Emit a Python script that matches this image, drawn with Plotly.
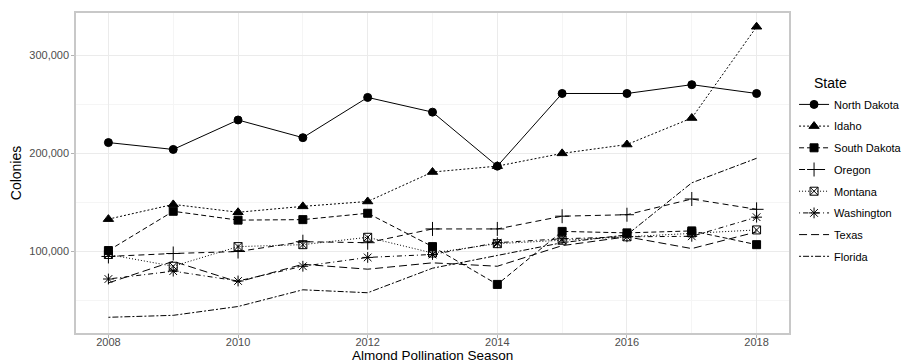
import plotly.graph_objects as go

years = list(range(2008, 2019))
states = ["North Dakota", "Idaho", "South Dakota", "Oregon", "Montana", "Washington", "Texas", "Florida"]

north_dakota = [211000, 204000, 234000, 216000, 257000, 242000, 187000, 261000, 261000, 270000, 261000]
idaho        = [133000, 148000, 140000, 146000, 151000, 181000, 187000, 200000, 209000, 236000, 329000]
south_dakota = [101000, 141000, 132000, 132500, 139000, 105000, 66500, 120500, 119000, 121000, 107000]
oregon       = [95000, 98000, 100000, 110000, 109000, 123000, 123000, 136000, 137500, 153500, 143000]
montana      = [97000, 85000, 105000, 107000, 114500, 98500, 108000, 111500, 115000, 119000, 122000]
washington   = [72000, 80000, 70000, 85000, 94000, 97000, 109000, 113000, 115000, 115500, 135000]
texas        = [68000, 90000, 69000, 87000, 82000, 88500, 85000, 106000, 115000, 103000, 120000]
florida      = [33000, 35000, 44000, 61000, 58000, 83000, 96000, 109000, 117000, 170000, 195000]

series = [north_dakota, idaho, south_dakota, oregon, montana, washington, texas, florida]
symbols = ["circle", "triangle-up", "square", "cross-thin-open", "square-x-open", "asterisk-open", None, None]
dashes = ["solid", "2px,2px", "5px,3px", "6px,4px", "1px,2px", "1px,3px,5px,3px", "8px,4px", "2px,2px,6px,2px"]
sizes = [8, 9, 8, 10, 8, 9, 0, 0]

fig = go.Figure()
for name, vals, sym, dash, sz in zip(states, series, symbols, dashes, sizes):
    if sym is None:
        fig.add_trace(go.Scatter(x=years, y=vals, name=name, mode="lines",
                                 line=dict(color="black", width=1, dash=dash),
                                 legendgroup=name))
    else:
        fig.add_trace(go.Scatter(x=years, y=vals, name=name, mode="lines+markers",
                                 line=dict(color="black", width=1, dash=dash),
                                 marker=dict(symbol=sym, size=sz, color="black",
                                             line=dict(color="black", width=1)),
                                 legendgroup=name))

fig.add_annotation(text="State", xref="paper", yref="paper", x=1.032, y=0.781,
                   xanchor="left", yanchor="middle", showarrow=False,
                   font=dict(size=14, color="black"))
fig.add_annotation(text="Almond Pollination Season", xref="paper", yref="paper",
                   x=0.5, y=-0.0969, xanchor="center", yanchor="bottom", showarrow=False,
                   borderpad=0, font=dict(size=13.5, color="black"))

fig.update_layout(
    width=905, height=364,
    margin=dict(l=76, r=116, t=13, b=31),
    paper_bgcolor="white", plot_bgcolor="white",
    font=dict(family="Liberation Sans, Arial, sans-serif", color="black"),
    legend=dict(
        xref="container", yref="container",
        x=0.8774, y=0.753, xanchor="left", yanchor="top",
        font=dict(size=11, color="black"),
        tracegroupgap=2.7, itemwidth=30,
    ),
    xaxis=dict(
        range=[2007.5, 2018.5], automargin=False,
        tickmode="array", tickvals=[2008, 2010, 2012, 2014, 2016, 2018],
        ticks="outside", ticklen=3, tickcolor="#b3b3b3",
        tickfont=dict(size=11, color="#4d4d4d"),
        ticklabelstandoff=-5,
        showgrid=True, gridcolor="#ebebeb", gridwidth=1,
        minor=dict(tickvals=[2009, 2011, 2013, 2015, 2017], showgrid=True, gridcolor="#f5f5f5", gridwidth=1),
        showline=True, linecolor="#c8c8c8", linewidth=1.5, mirror=True,
        zeroline=False,
    ),
    yaxis=dict(
        range=[17000, 343000], automargin=False,
        tickmode="array", tickvals=[100000, 200000, 300000],
        ticktext=["100,000", "200,000", "300,000"],
        ticks="outside", ticklen=3, tickcolor="#b3b3b3",
        tickfont=dict(size=11, color="#4d4d4d"),
        showgrid=True, gridcolor="#ebebeb", gridwidth=1,
        minor=dict(tickvals=[50000, 150000, 250000], showgrid=True, gridcolor="#f5f5f5", gridwidth=1),
        showline=True, linecolor="#c8c8c8", linewidth=1.5, mirror=True,
        zeroline=False,
        title=dict(text="Colonies", font=dict(size=14), standoff=4),
    ),
)

fig.write_html("out.html", config={"displayModeBar": False},
               post_script="document.body.style.margin='0';")
